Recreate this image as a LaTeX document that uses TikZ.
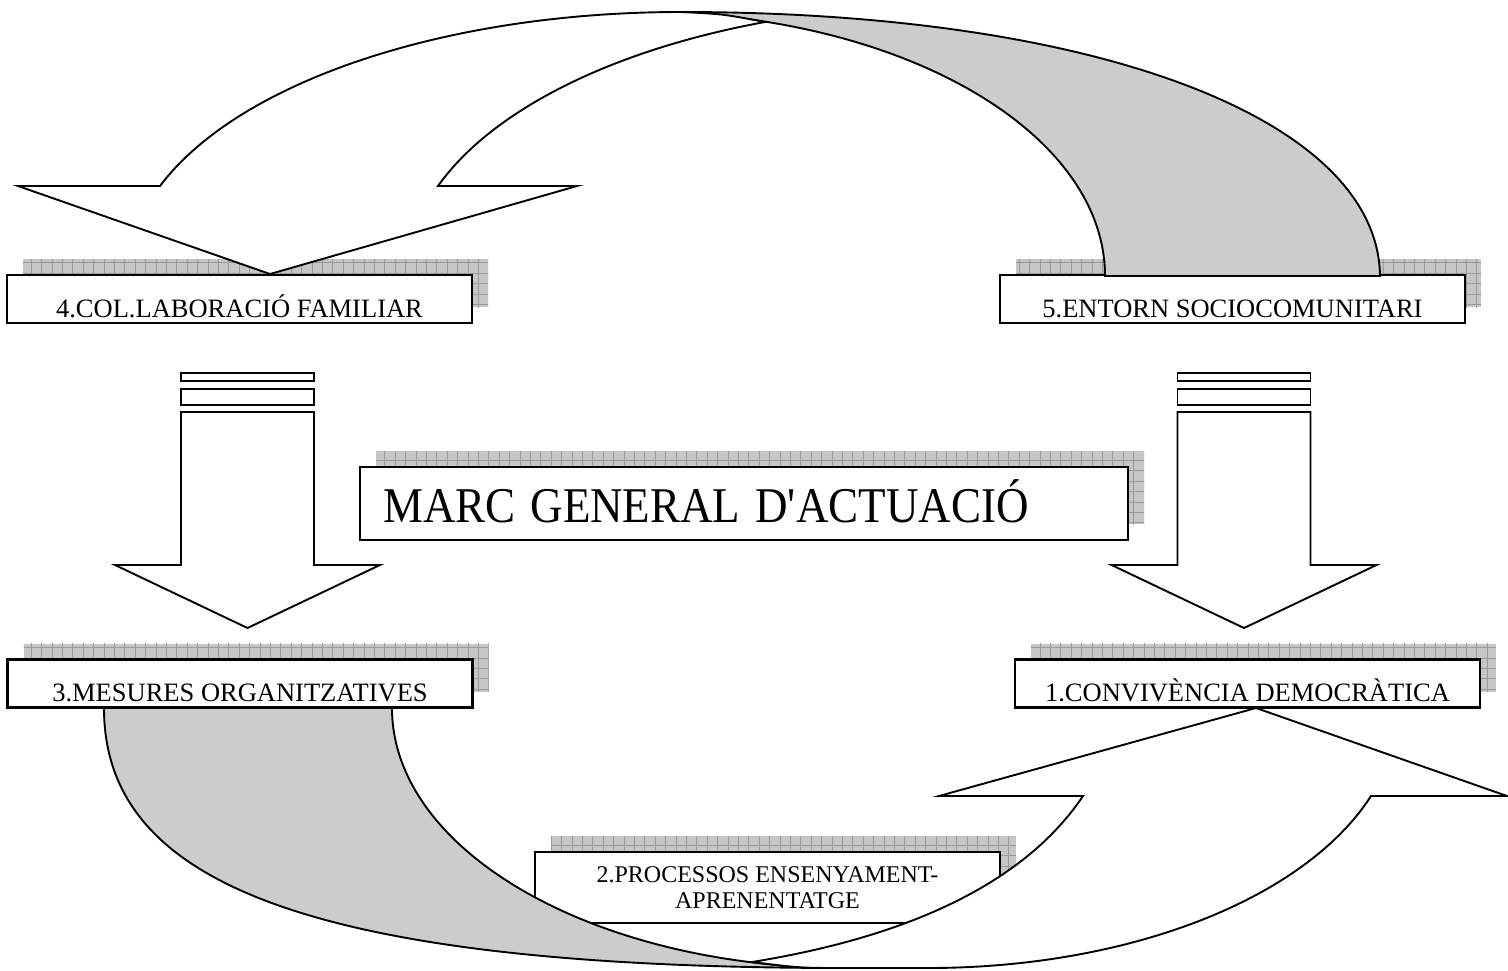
\documentclass[tikz,border=0pt]{standalone}
\usepackage{fontspec}
\setmainfont{Liberation Serif}
\usetikzlibrary{shadows,patterns.meta}

\tikzset{
  shadowgrid/.style={
    general shadow={draw=none, fill=gray!45, shadow xshift=16pt, shadow yshift=16pt},
    general shadow={draw=none, pattern={Hatch[distance=10.4pt, line width=.7pt]}, pattern color=gray!80, shadow xshift=16pt, shadow yshift=16pt}},
  box/.style={draw, line width=2.3pt, fill=white, shadowgrid, minimum width=465pt, minimum height=48pt, inner sep=0pt, font=\fontsize{26.5}{30}\selectfont},
  oneline/.style={text height=42pt, text depth=6pt},
  titlebox/.style={box, minimum width=768pt, minimum height=73pt, text width=722pt, align=left, inner xsep=23pt, text height=55pt, text depth=18pt, font=\fontsize{50}{56}\selectfont},
  blockline/.style={draw, line width=1.9pt, fill=white, line join=miter},
  band/.style={draw, line width=1.9pt, fill=gray!40}
}

\begin{document}
\begin{tikzpicture}[x=1pt,y=1pt]
\useasboundingbox (0,0) rectangle (1508,-970);

\node[box, oneline] (fam) at (239.5,-299) {4.COL.LABORACIÓ FAMILIAR};
\node[box, oneline] (ent) at (1232.5,-299) {5.ENTORN SOCIOCOMUNITARI};
\node[box, oneline] (org) at (240,-683.5) {3.MESURES ORGANITZATIVES};
\node[box, oneline] (conv) at (1247.5,-683.5) {1.CONVIVÈNCIA DEMOCRÀTICA};
\node[box, minimum height=71pt, align=center, font=\fontsize{24}{26}\selectfont] (proc) at (767.5,-887.5) {2.PROCESSOS ENSENYAMENT-\\APRENENTATGE};
\node[titlebox] (marc) at (744,-503.5) {\scalebox{.9}[1]{MARC GENERAL D\textquotesingle ACTUACIÓ}};

\foreach \cx in {247.5,1244}{
  \draw[blockline] (\cx-66.5,-373) rectangle (\cx+66.5,-381);
  \draw[blockline] (\cx-66.5,-389) rectangle (\cx+66.5,-405);
  \draw[blockline] (\cx-66.5,-412) -- (\cx+66.5,-412) -- (\cx+66.5,-565) -- (\cx+132.5,-565) -- (\cx,-628) -- (\cx-132.5,-565) -- (\cx-66.5,-565) -- cycle;
}

\draw[band] (681,-12) .. controls (1100,-12) and (1378,-120) .. (1380,-276) -- (1105,-276) .. controls (1105,-139) and (921,-25) .. (681,-13) -- cycle;
\draw[blockline] (160,-186) .. controls (239,-81) and (447,-12) .. (681,-12) .. controls (723,-14) .. (765,-22) .. controls (612,-50) and (492,-110) .. (438,-186) -- (577,-186) -- (270,-274) -- (18,-186) -- cycle;

\draw[band] (104,-708) .. controls (104,-880) and (300,-968) .. (847,-968) .. controls (596,-968) and (392,-852) .. (392,-708) -- cycle;
\draw[blockline] (1371,-796) .. controls (1304,-900) and (1127,-968) .. (928,-968) -- (847,-968) .. controls (800,-968) .. (752,-962) .. controls (950,-930) and (1040,-860) .. (1083,-796) -- (939,-796) -- (1256,-708) -- (1507,-796) -- cycle;
\end{tikzpicture}
\end{document}
